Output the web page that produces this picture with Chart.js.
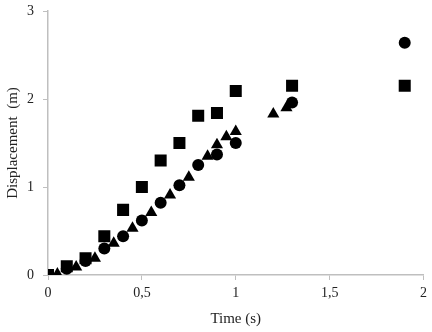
<!DOCTYPE html>
<html>
<head>
<meta charset="utf-8">
<script src="https://cdn.jsdelivr.net/npm/chart.js@4/dist/chart.umd.min.js"></script>
<style>
  html, body { margin: 0; padding: 0; background: #fff; }
  #wrap { width: 432px; height: 332px; }
</style>
</head>
<body>
<div id="wrap"><canvas id="chart" width="432" height="332"></canvas></div>
<script>
// series data (time s, displacement m)
const squareX = [0, 0.1, 0.2, 0.3, 0.4, 0.5, 0.6, 0.7, 0.8, 0.9, 1.0, 1.3, 1.9];
const squareY = [0, 0.1, 0.19, 0.44, 0.74, 1.0, 1.3, 1.5, 1.81, 1.84, 2.09, 2.15, 2.15];

const circleX = [0, 0.1, 0.2, 0.3, 0.4, 0.5, 0.6, 0.7, 0.8, 0.9, 1.0, 1.3, 1.9];
const circleY = [0, 0.07, 0.16, 0.3, 0.44, 0.62, 0.82, 1.02, 1.25, 1.37, 1.5, 1.96, 2.64];

const triX = [0.05, 0.15, 0.25, 0.35, 0.45, 0.55, 0.65, 0.75, 0.85, 0.9, 0.95, 1.0, 1.2, 1.27];
const triY = [0.01, 0.09, 0.19, 0.36, 0.53, 0.71, 0.91, 1.11, 1.35, 1.48, 1.57, 1.63, 1.83, 1.9];

const xTicks = [0, 0.5, 1, 1.5, 2];
const yTicks = [0, 1, 2, 3];

const pts = (xs, ys) => xs.map((x, i) => ({ x, y: ys[i] }));
const fmt = (v) => String(v).replace(".", ",");

const serif = "'Liberation Serif', 'DejaVu Serif', serif";
const tickFont = { family: serif, size: 14 };
const titleFont = { family: serif, size: 15 };
const axisGrey = "#bfbfbf";
const textCol = "#222";

new Chart(document.getElementById("chart").getContext("2d"), {
    type: "scatter",
    data: {
        datasets: [
            { label: "squares", data: pts(squareX, squareY), pointStyle: "rect", pointRadius: 8.5, backgroundColor: "#000", borderWidth: 0 },
            { label: "triangles", data: pts(triX, triY), pointStyle: "triangle", pointRadius: 7, backgroundColor: "#000", borderWidth: 0 },
            { label: "circles", data: pts(circleX, circleY), pointStyle: "circle", pointRadius: 6, backgroundColor: "#000", borderWidth: 0 },
        ],
    },
    options: {
        responsive: false,
        animation: false,
        layout: { padding: { top: 11, right: 7, left: 0, bottom: 0 } },
        plugins: { legend: { display: false }, tooltip: { enabled: false } },
        scales: {
            x: {
                type: "linear",
                min: 0,
                max: 2,
                afterBuildTicks: (axis) => { axis.ticks = xTicks.map((v) => ({ value: v })); },
                afterFit: (axis) => { axis.height = 57; axis.paddingRight = 0; },
                grid: { drawOnChartArea: false, color: axisGrey, tickLength: 5 },
                border: { color: axisGrey, width: 1.5 },
                ticks: { color: textCol, font: tickFont, padding: 5, callback: (v) => fmt(v) },
                title: { display: true, text: "Time (s)", color: textCol, font: titleFont, padding: { top: 7 } },
            },
            y: {
                type: "linear",
                min: 0,
                max: 3,
                afterBuildTicks: (axis) => { axis.ticks = yTicks.map((v) => ({ value: v })); },
                afterFit: (axis) => { axis.width = 48; axis.paddingTop = 0; axis.paddingBottom = 0; },
                grid: { drawOnChartArea: false, color: axisGrey, tickLength: 5 },
                border: { color: axisGrey, width: 1.5 },
                ticks: { color: textCol, font: tickFont, padding: 9, callback: (v) => fmt(v) },
                title: { display: true, text: "Displacement  (m)", color: textCol, font: titleFont, padding: { bottom: 2 } },
            },
        },
    },
});
</script>
</body>
</html>
